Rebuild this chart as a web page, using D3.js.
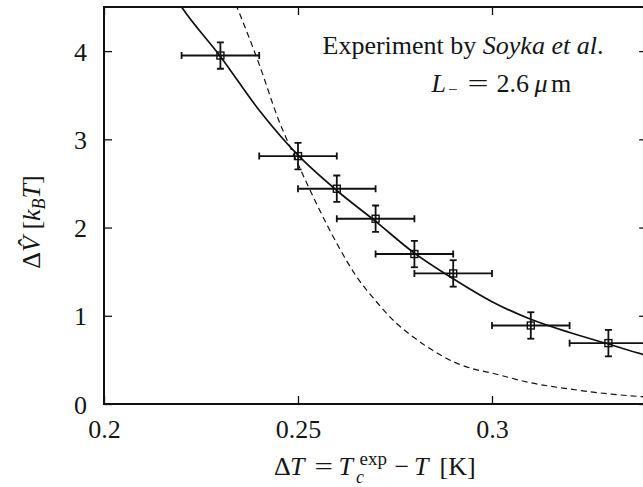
<!DOCTYPE html>
<html>
<head>
<meta charset="utf-8">
<script src="https://cdn.jsdelivr.net/npm/d3@7"></script>
<style>
  html, body { margin: 0; padding: 0; background: #fff; }
  svg text { font-family: "Liberation Serif", "DejaVu Serif", serif; fill: #151515; }
</style>
</head>
<body>
<svg id="chart" width="643" height="487"></svg>
<script>
// Measured potential barrier vs. temperature distance from the critical point
const deltaT    = [0.23, 0.25, 0.26, 0.27, 0.28, 0.29, 0.31, 0.33];
const deltaV    = [3.95, 2.81, 2.44, 2.10, 1.70, 1.48, 0.89, 0.69];
const deltaTErr = [0.01, 0.01, 0.01, 0.01, 0.01, 0.01, 0.01, 0.01];
const deltaVErr = [0.15, 0.15, 0.15, 0.15, 0.15, 0.15, 0.15, 0.15];

// Fitted curve (solid)
const fitT = [0.215, 0.22, 0.23, 0.24, 0.25, 0.26, 0.27, 0.28, 0.29, 0.30, 0.31, 0.32, 0.33, 0.34, 0.345];
const fitV = [4.85, 4.50, 3.94, 3.33, 2.82, 2.42, 2.07, 1.71, 1.42, 1.16, 0.96, 0.81, 0.68, 0.55, 0.50];

// Comparison curve (dashed)
const cmpT = [0.230, 0.235, 0.240, 0.245, 0.250, 0.255, 0.260, 0.265, 0.270, 0.275, 0.280, 0.285, 0.290, 0.295, 0.300, 0.310, 0.320, 0.330, 0.340, 0.345];
const cmpV = [4.95, 4.42, 3.85, 3.22, 2.72, 2.25, 1.82, 1.45, 1.17, 0.93, 0.75, 0.60, 0.48, 0.40, 0.35, 0.24, 0.17, 0.115, 0.08, 0.07];

const xTicks = [0.2, 0.25, 0.3];
const xTickLabels = ["0.2", "0.25", "0.3"];
const yTicks = [0, 1, 2, 3, 4];
const yTickLabels = ["0", "1", "2", "3", "4"];

const svg = d3.select("#chart");
const mLeft = 104, mRight = 647.2, mTop = 7, mBottom = 404;

const x = d3.scaleLinear().domain([0.2, 0.34]).range([mLeft, mRight]);
const y = d3.scaleLinear().domain([0, 4.5]).range([mBottom, mTop]);

svg.append("defs").append("clipPath").attr("id", "plotClip")
  .append("rect").attr("x", mLeft).attr("y", mTop)
  .attr("width", mRight - mLeft).attr("height", mBottom - mTop);

const tickFont = 26;

// Axes: ticks point into the plot on all four sides
const axB = svg.append("g").attr("transform", `translate(0,${mBottom})`)
  .call(d3.axisBottom(x).tickValues(xTicks).tickFormat((d, i) => xTickLabels[i])
        .tickSizeInner(-8).tickSizeOuter(0).tickPadding(16));
const axT = svg.append("g").attr("transform", `translate(0,${mTop})`)
  .call(d3.axisTop(x).tickValues(xTicks).tickFormat("")
        .tickSizeInner(-8).tickSizeOuter(0));
const axL = svg.append("g").attr("transform", `translate(${mLeft},0)`)
  .call(d3.axisLeft(y).tickValues(yTicks).tickFormat((d, i) => yTickLabels[i])
        .tickSizeInner(-8).tickSizeOuter(0).tickPadding(17));
const axR = svg.append("g").attr("transform", `translate(${mRight},0)`)
  .call(d3.axisRight(y).tickValues(yTicks).tickFormat("")
        .tickSizeInner(-8).tickSizeOuter(0));

[axB, axT, axL, axR].forEach(g => {
  g.select(".domain").remove();
  g.selectAll(".tick line").attr("stroke", "#111").attr("stroke-width", 1.3);
  g.selectAll("text").attr("font-size", tickFont)
    .style("font-family", '"Liberation Serif", serif').attr("fill", "#151515");
});
axL.selectAll("text").attr("dy", "0.35em");
axB.selectAll("text").attr("dy", "0.68em");

// Frame
svg.append("rect").attr("x", mLeft).attr("y", mTop)
  .attr("width", mRight - mLeft).attr("height", mBottom - mTop)
  .attr("fill", "none").attr("stroke", "#111").attr("stroke-width", 2);

const plot = svg.append("g").attr("clip-path", "url(#plotClip)");

const line = d3.line().curve(d3.curveMonotoneX)
  .x(d => x(d[0])).y(d => y(d[1]));

plot.append("path").datum(d3.zip(cmpT, cmpV)).attr("d", line)
  .attr("fill", "none").attr("stroke", "#111").attr("stroke-width", 1.2)
  .attr("stroke-dasharray", "6,4");

plot.append("path").datum(d3.zip(fitT, fitV)).attr("d", line)
  .attr("fill", "none").attr("stroke", "#111").attr("stroke-width", 1.7);

// Data points with error bars
const pts = deltaT.map((t, i) => ({ t, v: deltaV[i], et: deltaTErr[i], ev: deltaVErr[i] }));
const cap = 3.5;
const eb = plot.append("g").attr("stroke", "#111").attr("stroke-width", 1.8).attr("fill", "none");
pts.forEach(p => {
  const cx = x(p.t), cy = y(p.v);
  const x0 = x(p.t - p.et), x1 = x(p.t + p.et);
  const y0 = y(p.v - p.ev), y1 = y(p.v + p.ev);
  eb.append("line").attr("x1", x0).attr("x2", x1).attr("y1", cy).attr("y2", cy);
  eb.append("line").attr("x1", x0).attr("x2", x0).attr("y1", cy - cap).attr("y2", cy + cap);
  eb.append("line").attr("x1", x1).attr("x2", x1).attr("y1", cy - cap).attr("y2", cy + cap);
  eb.append("line").attr("x1", cx).attr("x2", cx).attr("y1", y0).attr("y2", y1);
  eb.append("line").attr("x1", cx - cap).attr("x2", cx + cap).attr("y1", y0).attr("y2", y0);
  eb.append("line").attr("x1", cx - cap).attr("x2", cx + cap).attr("y1", y1).attr("y2", y1);
  eb.append("rect").attr("x", cx - 3.5).attr("y", cy - 3.5).attr("width", 7).attr("height", 7)
    .attr("stroke-width", 1.4);
});

// Helper: place a run of text pieces, each at its own offset from a start point
function pieces(g, x0, y0, parts) {
  parts.forEach(p => {
    const t = g.append("text")
      .attr("x", x0 + p.dx).attr("y", y0 + (p.dy || 0))
      .attr("font-size", p.size || 26)
      .attr("font-style", p.italic ? "italic" : "normal")
      .text(p.t);
    if (p.len) t.attr("textLength", p.len).attr("lengthAdjust", "spacingAndGlyphs");
  });
}

// Annotation
const ann = svg.append("text").attr("x", 322.5).attr("y", 54).attr("font-size", 26);
ann.append("tspan").text("Experiment by ");
ann.append("tspan").attr("font-style", "italic").text("Soyka et al");
ann.append("tspan").text(".");

pieces(svg.append("g"), 431.5, 91.5, [
  { t: "L", dx: 0, italic: true },
  { t: "\u2212", dx: 16.5, dy: 3, size: 17 },
  { t: "=", dx: 36, len: 21 },
  { t: "2.6", dx: 65 },
  { t: "\u03bc", dx: 103, italic: true },
  { t: "m", dx: 119.5 }
]);

// X axis title: ΔT = T_c^exp − T [K], centred under the plot
const xTitle = svg.append("g");
const xTitleStart = (mLeft + mRight) / 2 - 101.5;
pieces(xTitle, xTitleStart, 475, [
  { t: "\u0394", dx: 0 },
  { t: "T", dx: 16, italic: true },
  { t: "=", dx: 40.5, len: 18.5 },
  { t: "T", dx: 64.5, italic: true },
  { t: "c", dx: 82, dy: 8, size: 18, italic: true },
  { t: "exp", dx: 85.5, dy: -10, size: 19 },
  { t: "\u2212", dx: 120.5 },
  { t: "T", dx: 140, italic: true },
  { t: "[K]", dx: 165.5 }
]);

// Y axis title
const yl = svg.append("text").attr("transform", "translate(40,222) rotate(-90)")
  .attr("text-anchor", "middle").attr("font-size", 26);
yl.append("tspan").text("\u0394");
yl.append("tspan").attr("font-style", "italic").text("V\u0302");
yl.append("tspan").text(" [");
yl.append("tspan").attr("font-style", "italic").text("k");
yl.append("tspan").attr("font-style", "italic").attr("font-size", 18).attr("dy", 5).text("B");
yl.append("tspan").attr("font-style", "italic").attr("dy", -5).text("T");
yl.append("tspan").text("]");
</script>
</body>
</html>
